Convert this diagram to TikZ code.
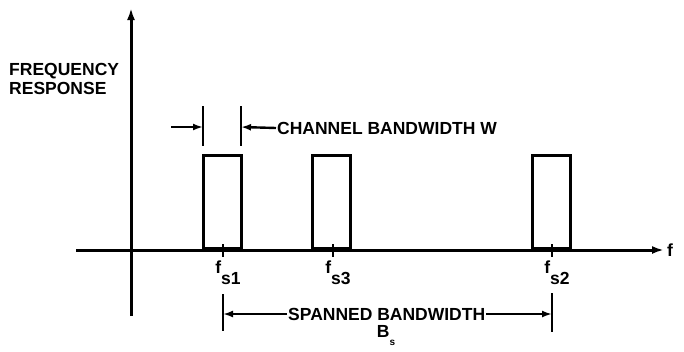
\documentclass[tikz,border=0pt]{standalone}
\usepackage{fontspec}
\setmainfont{Liberation Sans}
\usetikzlibrary{arrows.meta}
\begin{document}
\begin{tikzpicture}[x=1pt,y=-1pt,
  axisline/.style={line width=3pt,-{Latex[length=12pt,width=8pt]}},
  chanbox/.style={draw,line width=2.6pt,minimum width=38pt,minimum height=93pt,inner sep=0pt,anchor=south},
  marker/.style={line width=2.4pt},
  dimarrow/.style={line width=2.4pt,-{Latex[length=10pt,width=7pt]}},
  lbl/.style={font=\fontsize{17.5}{19.5}\selectfont\bfseries,inner sep=1pt},
  tick/.style={line width=2pt}]
\useasboundingbox (0,0) rectangle (684,351);
% axes
\coordinate (xstart) at (76,250);
\coordinate (xend) at (664,250);
\coordinate (ystart) at (131,316);
\coordinate (yend) at (131,8);
\draw[axisline] (xstart) -- (xend);
\draw[axisline] (ystart) -- (yend);
\node[lbl,anchor=west] (flab) at (666,250) {f};
\node[lbl,align=left,anchor=west] (resp) at (8,79) {FREQUENCY\\RESPONSE};
% channel boxes
\node[chanbox] (b1) at (222.5,250) {};
\node[chanbox] (b3) at (331.5,250) {};
\node[chanbox] (b2) at (551.5,250) {};
% ticks
\coordinate (t1a) at (223,244); \coordinate (t1b) at (223,257);
\coordinate (t3a) at (333,244); \coordinate (t3b) at (333,257);
\coordinate (t2a) at (552,244); \coordinate (t2b) at (552,257);
\draw[tick] (t1a) -- (t1b);
\draw[tick] (t3a) -- (t3b);
\draw[tick] (t2a) -- (t2b);
\node[lbl,anchor=north] (fs1) at (228,260) {f\raisebox{-1.2ex}{s1}};
\node[lbl,anchor=north] (fs3) at (338,260) {f\raisebox{-1.2ex}{s3}};
\node[lbl,anchor=north] (fs2) at (557,260) {f\raisebox{-1.2ex}{s2}};
% channel bandwidth marker
\coordinate (cwa) at (203,106); \coordinate (cwb) at (203,146);
\coordinate (cwc) at (241,106); \coordinate (cwd) at (241,146);
\draw[marker] (cwa) -- (cwb);
\draw[marker] (cwc) -- (cwd);
\coordinate (cwl) at (171,127);
\coordinate (cwlt) at (203,127);
\coordinate (cwrt) at (241,127);
\draw[dimarrow] (cwl) -- (cwlt);
\node[lbl,anchor=west] (chan) at (276,128) {CHANNEL BANDWIDTH W};
\draw[dimarrow] (chan.west) -- (cwrt);
% spanned bandwidth marker
\coordinate (sba) at (223,294); \coordinate (sbb) at (223,331);
\coordinate (sbc) at (552,293); \coordinate (sbd) at (552,332);
\draw[marker] (sba) -- (sbb);
\draw[marker] (sbc) -- (sbd);
\coordinate (sbl) at (223,314);
\coordinate (sbr) at (552,314);
\node[lbl,anchor=west] (span) at (287,314) {SPANNED BANDWIDTH};
\draw[dimarrow] (span.west) -- (sbl);
\draw[dimarrow] (span.east) -- (sbr);
\node[lbl,anchor=north] (bs) at (386,324) {B\raisebox{-0.9ex}{\fontsize{10}{11}\selectfont\bfseries s}};
\end{tikzpicture}
\end{document}
